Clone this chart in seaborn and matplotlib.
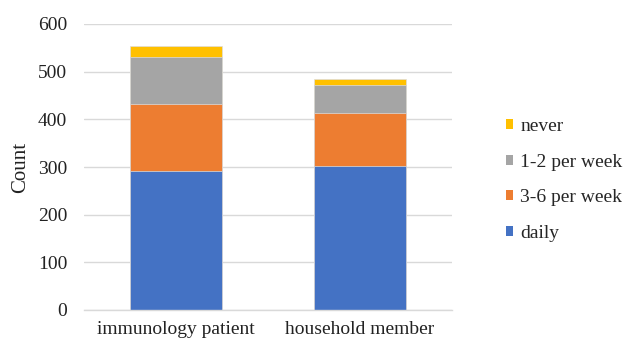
import matplotlib
matplotlib.use("Agg")
import matplotlib.pyplot as plt
import seaborn as sns
import pandas as pd
import numpy as np
from matplotlib.patches import Patch

categories = ["immunology patient", "household member"]
series = ["daily", "3-6 per week", "1-2 per week", "never"]
daily = [292, 302]
per_3_6 = [140, 111]
per_1_2 = [99, 60]
never = [23, 11]
colors = ["#4472C4", "#ED7D31", "#A5A5A5", "#FFC000"]

sns.set_theme(style="white")
plt.rcParams['font.family'] = ['Liberation Serif', 'DejaVu Serif']

values = [daily, per_3_6, per_1_2, never]
cum = np.cumsum(np.array(values), axis=0)

fig = plt.figure(figsize=(6.27, 3.45), dpi=100)
ax = fig.add_axes([84/627, 35/345, 368/627, 286/345])

for i in range(len(series) - 1, -1, -1):
    df = pd.DataFrame({"category": categories, "value": cum[i]})
    sns.barplot(data=df, x="category", y="value", color=colors[i], width=0.5,
                saturation=1, ax=ax, zorder=2, linewidth=0.5, edgecolor="#DDDDDD")

ax.set_xlim(-0.5, 1.5)
ax.set_ylim(0, 600)
ax.set_yticks(range(0, 601, 100))
ax.yaxis.grid(True, color="#D9D9D9", linewidth=1, zorder=0)
ax.set_axisbelow(True)
for s in ["top", "right", "left"]:
    ax.spines[s].set_visible(False)
ax.spines["bottom"].set_color("#D9D9D9")
ax.spines["bottom"].set_linewidth(1)
ax.tick_params(axis="y", length=0, labelsize=14, colors="#222222", pad=12)
ax.tick_params(axis="x", length=0, labelsize=14, colors="#222222", pad=8)
ax.set_xlabel("")
ax.set_ylabel("Count", fontsize=15, color="#222222", labelpad=6)

handles = [Patch(facecolor=colors[i], edgecolor="none") for i in range(len(series) - 1, -1, -1)]
labels = [series[i] for i in range(len(series) - 1, -1, -1)]
fig.legend(handles, labels, loc="center left", bbox_to_anchor=(488/627, 1 - 180/345),
           frameon=False, fontsize=14, handlelength=0.41, handleheight=0.41,
           handletextpad=0.36, labelspacing=0.95)

fig.savefig("out.png", dpi=100)
